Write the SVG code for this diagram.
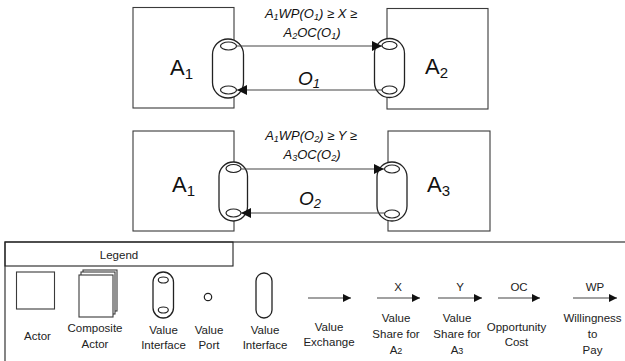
<svg xmlns="http://www.w3.org/2000/svg" width="625" height="361" viewBox="0 0 625 361">
<defs>
<style>
.box{fill:#fff;stroke:#3a3a3a;stroke-width:1.1}
.vi{fill:#fff;stroke:#222;stroke-width:1.3}
.port{fill:#fff;stroke:#222;stroke-width:1.2}
.line{stroke:#444;stroke-width:1.2;fill:none}
.big{font-family:"Liberation Sans",Arial,sans-serif;font-size:22px;fill:#111}
.lab{font-family:"Liberation Sans",Arial,sans-serif;font-size:13px;font-style:italic;fill:#111;text-anchor:middle}
.obj{font-family:"Liberation Sans",Arial,sans-serif;font-size:19px;font-style:italic;fill:#111}
.leg{font-family:"Liberation Sans",Arial,sans-serif;font-size:11.5px;fill:#222;text-anchor:middle}
</style>
<marker id="ah" viewBox="0 0 10 10" refX="10" refY="5" markerWidth="11" markerHeight="10" markerUnits="userSpaceOnUse" orient="auto">
<path d="M0,0 L10,5 L0,10 z" fill="#111"/>
</marker>
<marker id="ahs" viewBox="0 0 10 10" refX="10" refY="5" markerWidth="9" markerHeight="8" markerUnits="userSpaceOnUse" orient="auto">
<path d="M0,0 L10,5 L0,10 z" fill="#111"/>
</marker>
</defs>
<rect width="625" height="361" fill="#fff"/>

<!-- Top diagram -->
<g id="actorA1top">
<rect class="box" x="133" y="7.5" width="101" height="100.5"/>
<text class="big" x="170" y="75">A<tspan font-size="15" dy="4">1</tspan></text>
</g>
<g id="actorA2">
<rect class="box" x="387" y="8.5" width="101" height="100.5"/>
<text class="big" x="425" y="74">A<tspan font-size="15" dy="4">2</tspan></text>
</g>
<g id="viA1top">
<rect class="vi" x="212.5" y="39" width="31" height="59" rx="15.5"/>
<ellipse class="port" cx="228.5" cy="46" rx="8" ry="4"/>
<ellipse class="port" cx="228.5" cy="90" rx="8" ry="4"/>
</g>
<g id="viA2">
<rect class="vi" x="374.5" y="38.5" width="30" height="59" rx="15"/>
<ellipse class="port" cx="389.5" cy="45.5" rx="7.5" ry="4"/>
<ellipse class="port" cx="389.5" cy="90" rx="7.5" ry="4"/>
</g>

<!-- Bottom diagram -->
<g id="actorA1bottom">
<rect class="box" x="133" y="131" width="101" height="100"/>
<text class="big" x="172" y="192">A<tspan font-size="15" dy="4">1</tspan></text>
</g>
<g id="actorA3">
<rect class="box" x="388" y="131" width="102" height="100"/>
<text class="big" x="427" y="192">A<tspan font-size="15" dy="4">3</tspan></text>
</g>
<g id="viA1bottom">
<rect class="vi" x="219" y="162" width="28.5" height="59" rx="14.25"/>
<ellipse class="port" cx="233.5" cy="168.5" rx="7.5" ry="4"/>
<ellipse class="port" cx="233.5" cy="213" rx="7.5" ry="4"/>
</g>
<g id="viA3">
<rect class="vi" x="377" y="162" width="30" height="59" rx="15"/>
<ellipse class="port" cx="392" cy="169" rx="7.5" ry="4"/>
<ellipse class="port" cx="392" cy="214" rx="7.5" ry="4"/>
</g>

<g id="connectors">
<line class="line" x1="237" y1="46" x2="382" y2="46" marker-end="url(#ah)"/>
<line class="line" x1="382" y1="90" x2="237" y2="90" marker-end="url(#ah)"/>
<line class="line" x1="241" y1="169" x2="384" y2="169" marker-end="url(#ah)"/>
<line class="line" x1="384.5" y1="213" x2="241" y2="213" marker-end="url(#ah)"/>
</g>

<g id="labels">
<text class="lab" x="311" y="18">A<tspan font-size="9" dy="2">1</tspan><tspan dy="-2">WP(O</tspan><tspan font-size="9" dy="2">1</tspan><tspan dy="-2">) ≥ X ≥</tspan></text>
<text class="lab" x="312" y="37">A<tspan font-size="9" dy="2">2</tspan><tspan dy="-2">OC(O</tspan><tspan font-size="9" dy="2">1</tspan><tspan dy="-2">)</tspan></text>
<text class="obj" x="298" y="85">O<tspan font-size="13" dy="3">1</tspan></text>
<text class="lab" x="311" y="140">A<tspan font-size="9" dy="2">1</tspan><tspan dy="-2">WP(O</tspan><tspan font-size="9" dy="2">2</tspan><tspan dy="-2">) ≥ Y ≥</tspan></text>
<text class="lab" x="312" y="159">A<tspan font-size="9" dy="2">3</tspan><tspan dy="-2">OC(O</tspan><tspan font-size="9" dy="2">2</tspan><tspan dy="-2">)</tspan></text>
<text class="obj" x="299" y="205">O<tspan font-size="13" dy="3">2</tspan></text>
</g>

<!-- Legend -->
<g id="legend">
<rect x="5" y="242" width="630" height="130" fill="none" stroke="#222" stroke-width="1.1"/>
<rect x="5" y="242" width="228" height="24" fill="none" stroke="#222" stroke-width="1.1"/>
<text class="leg" x="119" y="259">Legend</text>

<g id="legActor">
<rect class="box" x="16.5" y="272" width="38" height="37"/>
<text class="leg" x="37.5" y="340">Actor</text>
</g>
<g id="legComposite">
<rect class="box" x="83" y="270" width="34" height="41"/>
<rect class="box" x="81" y="272" width="34" height="42"/>
<rect class="box" x="79" y="275" width="34" height="42"/>
<text class="leg" x="95" y="332">Composite</text>
<text class="leg" x="95" y="348">Actor</text>
</g>
<g id="legVI">
<rect class="vi" x="153" y="272" width="20.5" height="46" rx="10.25"/>
<ellipse class="port" cx="163.3" cy="280" rx="5" ry="3"/>
<ellipse class="port" cx="163.3" cy="310" rx="5" ry="3"/>
<text class="leg" x="163.5" y="334">Value</text>
<text class="leg" x="163.5" y="349">Interface</text>
</g>
<g id="legPort">
<circle class="port" cx="208" cy="297" r="3.7" stroke-width="1"/>
<text class="leg" x="209" y="334">Value</text>
<text class="leg" x="209" y="349">Port</text>
</g>
<g id="legVI2">
<rect class="vi" x="256" y="273" width="16" height="45" rx="8"/>
<text class="leg" x="265" y="334">Value</text>
<text class="leg" x="265" y="349">Interface</text>
</g>
<g id="legExchange">
<line class="line" x1="308" y1="298" x2="351" y2="298" marker-end="url(#ahs)"/>
<text class="leg" x="329" y="331">Value</text>
<text class="leg" x="329" y="346">Exchange</text>
</g>
<g id="legX">
<text class="leg" x="398" y="291">X</text>
<line class="line" x1="377" y1="298" x2="420" y2="298" marker-end="url(#ahs)"/>
<text class="leg" x="396" y="322">Value</text>
<text class="leg" x="396" y="338">Share for</text>
<text class="leg" x="396" y="354">A<tspan font-size="9">2</tspan></text>
</g>
<g id="legY">
<text class="leg" x="460" y="291">Y</text>
<line class="line" x1="438" y1="298" x2="482" y2="298" marker-end="url(#ahs)"/>
<text class="leg" x="457" y="322">Value</text>
<text class="leg" x="457" y="338">Share for</text>
<text class="leg" x="457" y="354">A<tspan font-size="9">3</tspan></text>
</g>
<g id="legOC">
<text class="leg" x="519" y="291">OC</text>
<line class="line" x1="498" y1="298" x2="540" y2="298" marker-end="url(#ahs)"/>
<text class="leg" x="516.5" y="331">Opportunity</text>
<text class="leg" x="516.5" y="346">Cost</text>
</g>
<g id="legWP">
<text class="leg" x="595" y="291">WP</text>
<line class="line" x1="573" y1="298" x2="617" y2="298" marker-end="url(#ahs)"/>
<text class="leg" x="592.5" y="322">Willingness</text>
<text class="leg" x="592.5" y="338">to</text>
<text class="leg" x="592.5" y="354">Pay</text>
</g>
</g>
</svg>
